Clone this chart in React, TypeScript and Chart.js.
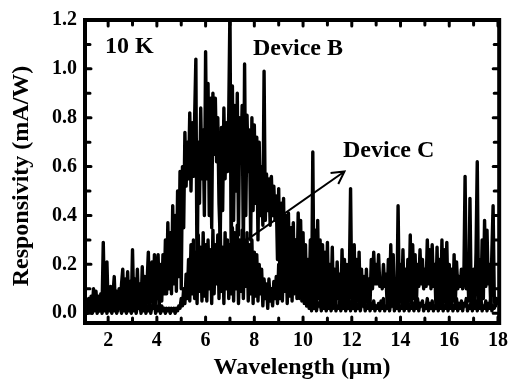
import { useEffect, useRef } from "react";
import { Chart, registerables } from "chart.js";

Chart.register(...registerables);

// Wavelength samples (µm), one row per micrometre
const WAVELENGTH = [
  1.05, 1.1, 1.15, 1.2, 1.25, 1.3, 1.35, 1.4, 1.45, 1.5, 1.55, 1.6, 1.65, 1.7, 1.75, 1.8, 1.85, 1.9, 1.95, 2.0,
  2.05, 2.1, 2.15, 2.2, 2.25, 2.3, 2.35, 2.4, 2.45, 2.5, 2.55, 2.6, 2.65, 2.7, 2.75, 2.8, 2.85, 2.9, 2.95, 3.0,
  3.05, 3.1, 3.15, 3.2, 3.25, 3.3, 3.35, 3.4, 3.45, 3.5, 3.55, 3.6, 3.65, 3.7, 3.75, 3.8, 3.85, 3.9, 3.95, 4.0,
  4.05, 4.1, 4.15, 4.2, 4.25, 4.3, 4.35, 4.4, 4.45, 4.5, 4.55, 4.6, 4.65, 4.7, 4.75, 4.8, 4.85, 4.9, 4.95, 5.0,
  5.05, 5.1, 5.15, 5.2, 5.25, 5.3, 5.35, 5.4, 5.45, 5.5, 5.55, 5.6, 5.65, 5.7, 5.75, 5.8, 5.85, 5.9, 5.95, 6.0,
  6.05, 6.1, 6.15, 6.2, 6.25, 6.3, 6.35, 6.4, 6.45, 6.5, 6.55, 6.6, 6.65, 6.7, 6.75, 6.8, 6.85, 6.9, 6.95, 7.0,
  7.05, 7.1, 7.15, 7.2, 7.25, 7.3, 7.35, 7.4, 7.45, 7.5, 7.55, 7.6, 7.65, 7.7, 7.75, 7.8, 7.85, 7.9, 7.95, 8.0,
  8.05, 8.1, 8.15, 8.2, 8.25, 8.3, 8.35, 8.4, 8.45, 8.5, 8.55, 8.6, 8.65, 8.7, 8.75, 8.8, 8.85, 8.9, 8.95, 9.0,
  9.05, 9.1, 9.15, 9.2, 9.25, 9.3, 9.35, 9.4, 9.45, 9.5, 9.55, 9.6, 9.65, 9.7, 9.75, 9.8, 9.85, 9.9, 9.95, 10.0,
  10.05, 10.1, 10.15, 10.2, 10.25, 10.3, 10.35, 10.4, 10.45, 10.5, 10.55, 10.6, 10.65, 10.7, 10.75, 10.8, 10.85, 10.9, 10.95, 11.0,
  11.05, 11.1, 11.15, 11.2, 11.25, 11.3, 11.35, 11.4, 11.45, 11.5, 11.55, 11.6, 11.65, 11.7, 11.75, 11.8, 11.85, 11.9, 11.95, 12.0,
  12.05, 12.1, 12.15, 12.2, 12.25, 12.3, 12.35, 12.4, 12.45, 12.5, 12.55, 12.6, 12.65, 12.7, 12.75, 12.8, 12.85, 12.9, 12.95, 13.0,
  13.05, 13.1, 13.15, 13.2, 13.25, 13.3, 13.35, 13.4, 13.45, 13.5, 13.55, 13.6, 13.65, 13.7, 13.75, 13.8, 13.85, 13.9, 13.95, 14.0,
  14.05, 14.1, 14.15, 14.2, 14.25, 14.3, 14.35, 14.4, 14.45, 14.5, 14.55, 14.6, 14.65, 14.7, 14.75, 14.8, 14.85, 14.9, 14.95, 15.0,
  15.05, 15.1, 15.15, 15.2, 15.25, 15.3, 15.35, 15.4, 15.45, 15.5, 15.55, 15.6, 15.65, 15.7, 15.75, 15.8, 15.85, 15.9, 15.95, 16.0,
  16.05, 16.1, 16.15, 16.2, 16.25, 16.3, 16.35, 16.4, 16.45, 16.5, 16.55, 16.6, 16.65, 16.7, 16.75, 16.8, 16.85, 16.9, 16.95, 17.0,
  17.05, 17.1, 17.15, 17.2, 17.25, 17.3, 17.35, 17.4, 17.45, 17.5, 17.55, 17.6, 17.65, 17.7, 17.75, 17.8, 17.85, 17.9, 17.95, 18.0,
];

// Device B responsivity (mA/W)
const DEVICE_B = [
  0.02, 0.05, 0.01, 0.06, 0.01, 0.07, 0.02, 0.10, 0.01, 0.09, 0.02, 0.07, 0.01, 0.08, 0.02, 0.29, 0.03, 0.08, 0.21, 0.02,
  0.03, 0.11, 0.02, 0.08, 0.15, 0.02, 0.09, 0.01, 0.10, 0.03, 0.12, 0.18, 0.02, 0.14, 0.03, 0.17, 0.03, 0.13, 0.02, 0.26,
  0.03, 0.14, 0.02, 0.18, 0.03, 0.12, 0.02, 0.19, 0.03, 0.15, 0.02, 0.13, 0.25, 0.03, 0.16, 0.21, 0.03, 0.24, 0.04, 0.18,
  0.24, 0.04, 0.20, 0.05, 0.24, 0.08, 0.30, 0.08, 0.37, 0.10, 0.33, 0.08, 0.44, 0.12, 0.40, 0.09, 0.50, 0.15, 0.58, 0.10,
  0.60, 0.35, 0.74, 0.52, 0.70, 0.55, 0.82, 0.50, 0.78, 0.56, 0.80, 1.04, 0.10, 0.70, 0.45, 0.84, 0.55, 0.75, 0.40, 1.07,
  0.55, 0.94, 0.40, 0.88, 0.35, 0.90, 0.65, 0.88, 0.62, 0.80, 0.45, 0.30, 0.76, 0.42, 0.84, 0.55, 0.78, 0.58, 0.82, 1.25,
  0.20, 0.93, 0.38, 0.85, 0.50, 0.90, 0.32, 0.80, 0.62, 0.85, 0.25, 1.02, 0.40, 0.81, 0.58, 0.75, 0.30, 0.80, 0.42, 0.77,
  0.45, 0.72, 0.30, 0.70, 0.40, 0.60, 0.36, 0.99, 0.38, 0.57, 0.42, 0.55, 0.36, 0.56, 0.40, 0.52, 0.38, 0.48, 0.22, 0.51,
  0.15, 0.45, 0.20, 0.47, 0.12, 0.40, 0.18, 0.41, 0.10, 0.35, 0.14, 0.37, 0.08, 0.30, 0.12, 0.41, 0.06, 0.38, 0.10, 0.33,
  0.05, 0.20, 0.03, 0.08, 0.02, 0.05, 0.01, 0.04, 0.02, 0.06, 0.01, 0.04, 0.03, 0.05, 0.01, 0.04, 0.02, 0.06, 0.01, 0.03,
  0.02, 0.05, 0.01, 0.04, 0.03, 0.06, 0.01, 0.03, 0.02, 0.05, 0.01, 0.04, 0.02, 0.06, 0.01, 0.03, 0.02, 0.05, 0.01, 0.04,
  0.02, 0.06, 0.01, 0.03, 0.02, 0.05, 0.01, 0.04, 0.03, 0.05, 0.01, 0.03, 0.02, 0.06, 0.01, 0.04, 0.02, 0.05, 0.01, 0.03,
  0.02, 0.04, 0.01, 0.05, 0.02, 0.06, 0.01, 0.03, 0.02, 0.05, 0.01, 0.04, 0.03, 0.06, 0.01, 0.04, 0.02, 0.05, 0.01, 0.03,
  0.02, 0.05, 0.01, 0.04, 0.02, 0.06, 0.01, 0.03, 0.02, 0.04, 0.01, 0.05, 0.02, 0.06, 0.01, 0.04, 0.03, 0.05, 0.01, 0.03,
  0.02, 0.06, 0.01, 0.04, 0.02, 0.05, 0.01, 0.03, 0.02, 0.06, 0.01, 0.04, 0.02, 0.05, 0.01, 0.03, 0.02, 0.06, 0.01, 0.04,
  0.02, 0.05, 0.01, 0.03, 0.02, 0.06, 0.01, 0.04, 0.02, 0.05, 0.01, 0.04, 0.03, 0.06, 0.01, 0.03, 0.02, 0.05, 0.01, 0.04,
  0.02, 0.05, 0.01, 0.04, 0.02, 0.06, 0.01, 0.03, 0.02, 0.05, 0.01, 0.04, 0.02, 0.06, 0.01, 0.03, 0.02, 0.05, 0.04, 0.05,
];

// Device C responsivity (mA/W)
const DEVICE_C = [
  0.01, 0.04, 0.00, 0.03, 0.01, 0.04, 0.00, 0.03, 0.02, 0.04, 0.00, 0.03, 0.01, 0.04, 0.00, 0.03, 0.01, 0.04, 0.00, 0.03,
  0.01, 0.03, 0.00, 0.04, 0.01, 0.03, 0.00, 0.04, 0.02, 0.03, 0.00, 0.04, 0.01, 0.03, 0.00, 0.04, 0.01, 0.03, 0.00, 0.04,
  0.01, 0.04, 0.00, 0.03, 0.02, 0.04, 0.00, 0.03, 0.01, 0.04, 0.00, 0.03, 0.01, 0.04, 0.00, 0.03, 0.02, 0.04, 0.00, 0.03,
  0.01, 0.04, 0.00, 0.03, 0.01, 0.02, 0.00, 0.02, 0.01, 0.02, 0.00, 0.02, 0.01, 0.02, 0.00, 0.02, 0.01, 0.03, 0.02, 0.06,
  0.03, 0.10, 0.04, 0.16, 0.06, 0.22, 0.05, 0.28, 0.08, 0.30, 0.06, 0.25, 0.04, 0.32, 0.09, 0.27, 0.05, 0.33, 0.07, 0.28,
  0.05, 0.30, 0.10, 0.26, 0.04, 0.34, 0.08, 0.28, 0.12, 0.32, 0.06, 0.36, 0.09, 0.27, 0.04, 0.33, 0.10, 0.30, 0.06, 0.28,
  0.08, 0.35, 0.05, 0.33, 0.10, 0.36, 0.04, 0.30, 0.09, 0.34, 0.06, 0.30, 0.11, 0.33, 0.05, 0.28, 0.08, 0.30, 0.04, 0.25,
  0.07, 0.24, 0.05, 0.20, 0.08, 0.18, 0.03, 0.14, 0.06, 0.12, 0.02, 0.14, 0.05, 0.10, 0.03, 0.13, 0.06, 0.15, 0.04, 0.20,
  0.06, 0.25, 0.05, 0.22, 0.09, 0.28, 0.04, 0.20, 0.07, 0.30, 0.05, 0.26, 0.10, 0.30, 0.06, 0.24, 0.08, 0.28, 0.05, 0.24,
  0.04, 0.28, 0.03, 0.22, 0.06, 0.30, 0.04, 0.66, 0.05, 0.34, 0.03, 0.38, 0.06, 0.30, 0.02, 0.28, 0.05, 0.25, 0.03, 0.29,
  0.03, 0.20, 0.05, 0.27, 0.02, 0.18, 0.04, 0.21, 0.06, 0.16, 0.03, 0.26, 0.05, 0.22, 0.02, 0.20, 0.04, 0.15, 0.51, 0.05,
  0.04, 0.28, 0.03, 0.22, 0.05, 0.25, 0.02, 0.18, 0.04, 0.15, 0.03, 0.18, 0.05, 0.14, 0.04, 0.22, 0.10, 0.25, 0.12, 0.20,
  0.12, 0.24, 0.11, 0.14, 0.10, 0.20, 0.11, 0.16, 0.04, 0.22, 0.05, 0.28, 0.03, 0.24, 0.05, 0.12, 0.03, 0.44, 0.05, 0.20,
  0.04, 0.26, 0.05, 0.18, 0.03, 0.22, 0.05, 0.32, 0.04, 0.28, 0.06, 0.24, 0.03, 0.20, 0.11, 0.26, 0.12, 0.22, 0.10, 0.18,
  0.11, 0.30, 0.12, 0.26, 0.10, 0.28, 0.11, 0.20, 0.04, 0.27, 0.03, 0.22, 0.05, 0.30, 0.03, 0.26, 0.05, 0.29, 0.04, 0.20,
  0.03, 0.18, 0.05, 0.24, 0.04, 0.21, 0.10, 0.15, 0.11, 0.18, 0.10, 0.14, 0.56, 0.10, 0.20, 0.05, 0.47, 0.06, 0.03, 0.18,
  0.04, 0.25, 0.62, 0.05, 0.22, 0.04, 0.30, 0.06, 0.38, 0.11, 0.34, 0.12, 0.20, 0.04, 0.25, 0.44, 0.05, 0.03, 0.06, 0.04,
];

const X_MAJOR = [2, 4, 6, 8, 10, 12, 14, 16, 18];
const X_MINOR = [3, 5, 7, 9, 11, 13, 15, 17];
const Y_MAJOR = [0, 0.2, 0.4, 0.6, 0.8, 1.0, 1.2];
const Y_MINOR = [0.1, 0.3, 0.5, 0.7, 0.9, 1.1];

const X_TITLE = "Wavelength (\u03bcm)";
const Y_TITLE = "Responsivity (mA/W)";
const TEMP_LABEL = "10 K";
const LABEL_B = "Device B";
const LABEL_C = "Device C";
// arrow in data units: [x0, y0, x1, y1]
const ARROW = [7.03, 0.254, 11.7, 0.58];

const FONT = "'Liberation Serif', 'Times New Roman', serif";

export default function App() {
  const ref = useRef<HTMLCanvasElement | null>(null);

  useEffect(() => {
    const canvas = ref.current;
    if (!canvas) return;

    const decor = {
      id: "decor",
      afterDatasetsDraw(chart: any) {
        const ctx = chart.ctx as CanvasRenderingContext2D;
        const { left, right, top, bottom } = chart.chartArea;
        const xs = chart.scales.x;
        const ys = chart.scales.y;
        ctx.save();
        ctx.strokeStyle = "#000";
        ctx.fillStyle = "#000";
        ctx.lineCap = "round";
        ctx.lineWidth = 3;
        const tickX = (vals: number[], len: number) => {
          vals.forEach((v) => {
            const px = xs.getPixelForValue(v);
            ctx.beginPath();
            ctx.moveTo(px, bottom);
            ctx.lineTo(px, bottom - len);
            ctx.moveTo(px, top);
            ctx.lineTo(px, top + len);
            ctx.stroke();
          });
        };
        const tickY = (vals: number[], len: number) => {
          vals.forEach((v) => {
            const py = ys.getPixelForValue(v);
            ctx.beginPath();
            ctx.moveTo(left, py);
            ctx.lineTo(left + len, py);
            ctx.moveTo(right, py);
            ctx.lineTo(right - len, py);
            ctx.stroke();
          });
        };
        tickX(X_MAJOR, 6);
        tickX(X_MINOR, 5);
        tickY(Y_MAJOR, 6);
        tickY(Y_MINOR, 5);
        ctx.lineCap = "butt";
        ctx.lineWidth = 4;
        ctx.strokeRect(left, top, right - left, bottom - top);

        ctx.font = `bold 24px ${FONT}`;
        ctx.textBaseline = "alphabetic";
        ctx.textAlign = "left";
        ctx.fillText(TEMP_LABEL, 105, 53);
        ctx.fillText(LABEL_B, 253, 55);
        ctx.fillText(LABEL_C, 343, 157);

        const ax0 = xs.getPixelForValue(ARROW[0]);
        const ay0 = ys.getPixelForValue(ARROW[1]);
        const ax1 = xs.getPixelForValue(ARROW[2]);
        const ay1 = ys.getPixelForValue(ARROW[3]);
        ctx.lineWidth = 2;
        ctx.beginPath();
        ctx.moveTo(ax0, ay0);
        ctx.lineTo(ax1, ay1);
        const ang = Math.atan2(ay1 - ay0, ax1 - ax0);
        const wing = 14;
        const spread = 0.5;
        ctx.moveTo(ax1 - wing * Math.cos(ang - spread), ay1 - wing * Math.sin(ang - spread));
        ctx.lineTo(ax1, ay1);
        ctx.lineTo(ax1 - wing * Math.cos(ang + spread), ay1 - wing * Math.sin(ang + spread));
        ctx.stroke();

        ctx.font = `bold 24px ${FONT}`;
        ctx.textAlign = "center";
        ctx.textBaseline = "middle";
        ctx.fillText(X_TITLE, 302, 368);
        ctx.translate(22, 176);
        ctx.rotate(-Math.PI / 2);
        ctx.fillText(Y_TITLE, 0, 0);
        ctx.restore();
      },
    };

    const series = (vals: number[]) => WAVELENGTH.map((x, i) => ({ x, y: vals[i] }));

    const chart = new Chart(canvas, {
      type: "line",
      data: {
        datasets: [
          {
            label: LABEL_B,
            data: series(DEVICE_B),
            borderColor: "#000",
            borderWidth: 3.4,
            pointRadius: 0,
            tension: 0,
            borderJoinStyle: "round",
          },
          {
            label: LABEL_C,
            data: series(DEVICE_C),
            borderColor: "#000",
            borderWidth: 3.4,
            pointRadius: 0,
            tension: 0,
            borderJoinStyle: "round",
          },
        ],
      },
      options: {
        animation: false,
        responsive: false,
        events: [],
        layout: { padding: { top: 14, right: 11, left: 0, bottom: 0 } },
        plugins: { legend: { display: false }, tooltip: { enabled: false } },
        scales: {
          x: {
            type: "linear",
            min: 1.05,
            max: 18.05,
            afterBuildTicks: (s: any) => {
              s.ticks = X_MAJOR.map((v) => ({ value: v }));
            },
            afterFit: (s: any) => {
              s.height = 63;
            },
            grid: { display: false, drawTicks: false },
            border: { display: false },
            ticks: {
              autoSkip: false,
              maxRotation: 0,
              padding: 6,
              color: "#000",
              font: { family: FONT, size: 20, weight: "bold" },
              callback: (v: any) => String(v),
            },
          },
          y: {
            type: "linear",
            min: -0.04,
            max: 1.2,
            afterBuildTicks: (s: any) => {
              s.ticks = Y_MAJOR.map((v) => ({ value: v }));
            },
            afterFit: (s: any) => {
              s.width = 85;
            },
            grid: { display: false, drawTicks: false },
            border: { display: false },
            ticks: {
              padding: 8,
              color: "#000",
              font: { family: FONT, size: 20, weight: "bold" },
              callback: (v: any) => Number(v).toFixed(1),
            },
          },
        },
      },
      plugins: [decor],
    } as any);

    return () => chart.destroy();
  }, []);

  return (
    <div style={{ position: "fixed", left: 0, top: 0, width: 514, height: 386, background: "#fff" }}>
      <canvas ref={ref} width={514} height={386} style={{ width: 514, height: 386, display: "block" }} />
    </div>
  );
}
